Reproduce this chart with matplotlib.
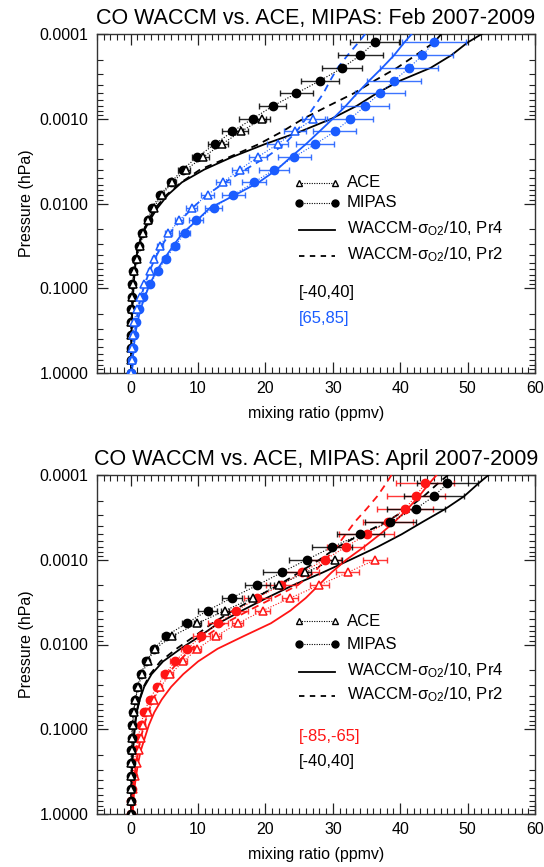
import numpy as np
import matplotlib
matplotlib.use("Agg")
import matplotlib.pyplot as plt
from matplotlib.ticker import FixedLocator, MultipleLocator, LogLocator, FuncFormatter, NullFormatter

plt.rcParams['font.family'] = ['Liberation Sans', 'DejaVu Sans']
plt.rcParams['mathtext.fontset'] = 'custom'
plt.rcParams['mathtext.rm'] = 'Liberation Sans'
plt.rcParams['mathtext.it'] = 'Liberation Sans:italic'

nan = np.nan
# observation pressure levels (hPa)
p_obs = [1.259e-4, 1.778e-4, 2.512e-4, 3.548e-4, 5.012e-4, 7.079e-4, 1.0e-3, 1.413e-3,
         1.995e-3, 2.818e-3, 3.981e-3, 5.623e-3, 7.943e-3, 1.122e-2, 1.585e-2, 2.239e-2,
         3.162e-2, 4.467e-2, 6.310e-2, 8.913e-2, 0.1259, 0.1778, 0.2512, 0.3548, 0.5012,
         0.7079, 1.0]
# model pressure levels (hPa)
p_mod = [1.0e-4] + p_obs

# ---------------- Feb 2007-2009 ----------------
mipas_trop_feb = [36.2, 34.1, 31.4, 28.1, 24.6, 21.1, 18.1, 15.1, 12.5, 9.9, 7.7, 6.0, 4.35, 3.2,
                  2.5, 1.7, 1.3, 0.8, 0.4, 0.25, 0.15, 0.1, 0.05, 0.03, 0.02, 0.01, 0.0]
mipas_trop_feb_err = [3.6, 3.4, 3.0, 2.8, 2.4, 2.0, 2.0, 1.5, 1.1, 0.8, 0.7, 0.5, 0.4, 0.3,
                      0.25, 0.2, 0.15, 0.1, 0.1, 0.05, 0.05, 0.05, 0.05, 0.05, 0.05, 0.05, 0.05]
ace_trop_feb = [nan, nan, nan, nan, nan, nan, 19.5, 16.4, 13.5, 10.8, 8.2, 6.2, 4.6, 3.4,
                2.6, 1.9, 1.4, 0.9, 0.5, 0.3, 0.2, 0.15, 0.1, 0.08, 0.05, 0.03, 0.02]
ace_trop_feb_err = [nan, nan, nan, nan, nan, nan, 1.2, 1.0, 0.9, 0.8, 0.6, 0.5, 0.4, 0.3,
                    0.2, 0.15, 0.1, 0.1, 0.05, 0.05, 0.05, 0.05, 0.05, 0.05, 0.05, 0.05, 0.05]
mipas_np_feb = [45.0, 43.3, 41.3, 39.1, 37.0, 34.8, 32.6, 30.3, 27.4, 24.3, 21.3, 18.3, 15.2, 12.3,
                9.7, 8.0, 6.6, 5.2, 4.0, 2.9, 1.9, 1.2, 0.8, 0.5, 0.3, 0.15, 0.05]
mipas_np_feb_err = [4.7, 4.5, 4.3, 4.0, 3.7, 3.6, 3.4, 3.2, 2.8, 2.5, 2.2, 1.8, 1.7, 1.3,
                    1.0, 0.8, 0.6, 0.5, 0.4, 0.3, 0.2, 0.15, 0.1, 0.1, 0.05, 0.05, 0.05]
ace_np_feb = [nan, nan, nan, nan, nan, nan, 27.1, 24.4, 21.8, 18.9, 16.2, 13.7, 11.4, 9.05,
              7.2, 5.6, 4.35, 3.5, 2.8, 2.0, 1.4, 0.9, 0.5, 0.35, 0.2, 0.15, 0.1]
ace_np_feb_err = [nan, nan, nan, nan, nan, nan, 1.7, 1.6, 1.5, 1.3, 1.2, 1.0, 0.9, 0.8,
                  0.6, 0.5, 0.4, 0.3, 0.25, 0.2, 0.15, 0.1, 0.1, 0.05, 0.05, 0.05, 0.05]
waccm_pr4_trop_feb = [52.1, 50.0, 47.6, 44.5, 40.0, 36.5, 33.5, 29.8, 25.2, 19.9, 15.1, 10.9, 7.6,
                      5.5, 4.0, 2.8, 1.8, 1.15, 0.8, 0.6, 0.45, 0.35, 0.25, 0.18, 0.12, 0.1, 0.07, 0.05]
waccm_pr2_trop_feb = [46.1, 45.0, 42.3, 39.5, 36.2, 33.1, 29.3, 25.6, 22.5, 19.0, 14.7, 10.3, 7.5,
                      5.3, 3.7, 2.6, 1.7, 1.1, 0.75, 0.55, 0.4, 0.3, 0.22, 0.16, 0.11, 0.09, 0.06, 0.05]
waccm_pr4_np_feb = [41.7, 40.6, 39.1, 37.3, 35.4, 33.6, 31.9, 30.0, 28.0, 26.0, 23.8, 21.7, 19.0,
                    15.5, 11.8, 9.8, 7.7, 6.3, 5.0, 3.8, 2.85, 2.1, 1.45, 1.0, 0.67, 0.45, 0.3, 0.2]
waccm_pr2_np_feb = [34.8, 33.8, 32.2, 30.7, 29.6, 28.6, 27.3, 26.0, 24.6, 22.8, 20.2, 17.0, 14.0,
                    11.3, 9.2, 7.4, 5.8, 4.6, 3.6, 2.8, 2.1, 1.55, 1.1, 0.8, 0.55, 0.4, 0.28, 0.2]

# ---------------- April 2007-2009 ----------------
mipas_trop_apr = [47.0, 45.0, 42.3, 38.5, 34.1, 29.9, 26.1, 22.4, 18.8, 15.0, 11.4, 8.3, 5.2, 3.5,
                  2.3, 1.5, 1.0, 0.7, 0.4, 0.25, 0.15, 0.1, 0.05, 0.03, 0.02, 0.01, 0.0]
mipas_trop_apr_err = [4.5, 4.4, 4.3, 3.8, 3.5, 3.0, 2.6, 2.8, 1.9, 1.5, 1.4, 0.7, 0.5, 0.4,
                      0.3, 0.2, 0.15, 0.1, 0.1, 0.05, 0.05, 0.05, 0.05, 0.05, 0.05, 0.05, 0.05]
ace_trop_apr = [nan, nan, nan, nan, nan, nan, 30.3, 25.9, 22.0, 18.1, 14.0, 9.9, 6.2, 3.6,
                2.5, 1.7, 1.1, 0.7, 0.45, 0.3, 0.2, 0.15, 0.1, 0.08, 0.05, 0.03, 0.02]
ace_trop_apr_err = [nan, nan, nan, nan, nan, nan, 1.0, 0.9, 0.8, 0.7, 0.6, 0.5, 0.4, 0.3,
                    0.2, 0.15, 0.1, 0.1, 0.05, 0.05, 0.05, 0.05, 0.05, 0.05, 0.05, 0.05, 0.05]
mipas_sp_apr = [43.7, 42.3, 40.7, 38.2, 35.0, 31.9, 28.8, 25.4, 22.3, 18.8, 15.7, 13.0, 10.5, 8.4,
                6.6, 5.1, 3.9, 2.8, 2.0, 1.5, 1.1, 0.8, 0.5, 0.35, 0.2, 0.1, 0.05]
mipas_sp_apr_err = [4.3, 4.3, 4.2, 3.7, 4.1, 2.7, 2.4, 2.6, 2.2, 2.0, 1.7, 1.5, 1.2, 1.0,
                    0.8, 0.6, 0.5, 0.4, 0.3, 0.2, 0.15, 0.1, 0.1, 0.05, 0.05, 0.05, 0.05]
ace_sp_apr = [nan, nan, nan, nan, nan, nan, 36.3, 32.2, 28.0, 23.7, 19.6, 15.9, 12.7, 9.9,
              7.8, 5.9, 4.4, 3.4, 2.6, 1.9, 1.6, 1.2, 0.9, 0.6, 0.4, 0.25, 0.1]
ace_sp_apr_err = [nan, nan, nan, nan, nan, nan, 1.8, 1.7, 1.4, 1.2, 1.1, 0.8, 0.7, 0.6,
                  0.5, 0.4, 0.3, 0.25, 0.2, 0.15, 0.1, 0.1, 0.05, 0.05, 0.05, 0.05, 0.05]
waccm_pr4_trop_apr = [53.1, 51.6, 49.5, 46.7, 43.4, 40.2, 36.6, 32.6, 28.5, 24.1, 20.2, 16.5, 13.0,
                      10.3, 7.4, 4.8, 3.1, 2.0, 1.35, 0.9, 0.65, 0.48, 0.35, 0.24, 0.18, 0.14, 0.12, 0.1]
waccm_pr2_trop_apr = [47.1, 45.6, 43.5, 41.0, 38.0, 34.2, 30.7, 28.0, 25.0, 21.9, 18.5, 15.2, 12.1,
                      9.5, 6.8, 4.4, 2.9, 1.9, 1.3, 0.85, 0.62, 0.45, 0.33, 0.23, 0.17, 0.13, 0.11, 0.1]
waccm_pr4_sp_apr = [45.4, 44.3, 42.8, 41.1, 39.2, 37.0, 34.6, 32.0, 29.8, 27.9, 26.0, 23.7, 20.8,
                    16.8, 12.9, 10.0, 7.8, 6.0, 4.6, 3.5, 2.7, 2.1, 1.5, 1.1, 0.8, 0.55, 0.4, 0.3]
waccm_pr2_sp_apr = [38.7, 37.9, 36.6, 35.0, 33.3, 31.9, 30.5, 28.9, 27.2, 24.8, 21.2, 17.5, 14.0,
                    11.2, 9.0, 7.1, 5.5, 4.3, 3.3, 2.6, 2.0, 1.5, 1.1, 0.8, 0.55, 0.4, 0.3, 0.25]

titles = ["CO WACCM vs. ACE, MIPAS: Feb 2007-2009", "CO WACCM vs. ACE, MIPAS: April 2007-2009"]
ytick_vals = [1e-4, 1e-3, 1e-2, 1e-1, 1.0]
xtick_vals = [0, 10, 20, 30, 40, 50, 60]

BLUE = '#1a5cff'
RED = '#ff1515'
BLACK = 'black'

fig = plt.figure(figsize=(5.44, 8.67), dpi=100)
W, H = 544.0, 867.0
ax1 = fig.add_axes([97 / W, 1 - 373 / H, 438 / W, 339 / H])
ax2 = fig.add_axes([97 / W, 1 - 814 / H, 438 / W, 339 / H])


def draw_obs(ax, x, err, color, marker, filled, z=4):
    x = np.array(x, float)
    e = np.array(err, float)
    p = np.array(p_obs)
    ax.errorbar(x, p, xerr=e, fmt='none', ecolor=color, elinewidth=1.0, capsize=2.0,
                capthick=1.0, alpha=0.85, zorder=z)
    ax.plot(x, p, linestyle=(0, (1, 1.5)), color=color, lw=0.8, zorder=z)
    if filled:
        ax.plot(x, p, linestyle='none', marker=marker, ms=6.0, mfc=color, mec=color, zorder=z + 1)
    else:
        ax.plot(x, p, linestyle='none', marker=marker, ms=6.2, mfc='white', mec=color, mew=1.1,
                zorder=z + 1)


def draw_model(ax, x, color, ls):
    ax.plot(x, p_mod, color=color, lw=1.3, linestyle=ls, zorder=3)


def style_axes(ax, title):
    ax.set_yscale('log')
    ax.set_ylim(1.0, 1e-4)
    ax.set_xlim(-5, 60)
    ax.yaxis.set_major_locator(FixedLocator(ytick_vals))
    ax.yaxis.set_major_formatter(FuncFormatter(lambda v, pos: '%.4f' % v))
    ax.yaxis.set_minor_locator(LogLocator(base=10, subs=np.arange(2, 10)))
    ax.yaxis.set_minor_formatter(NullFormatter())
    ax.xaxis.set_major_locator(FixedLocator(xtick_vals))
    ax.xaxis.set_minor_locator(MultipleLocator(1))
    ax.tick_params(which='both', direction='in', top=True, right=True, labelsize=11.5,
                   color='#222222')
    ax.tick_params(which='major', length=8, width=0.9, pad=6)
    ax.tick_params(which='minor', length=4, width=0.8)
    for s in ax.spines.values():
        s.set_color('#333333')
        s.set_linewidth(1.0)
    ax.set_title(title, fontsize=15.5, pad=7)
    ax.set_ylabel('Pressure (hPa)', fontsize=11.5, labelpad=4)
    ax.set_xlabel('mixing ratio (ppmv)', fontsize=11.5, labelpad=7)


def draw_key(ax, ys, region_labels):
    tr = ax.transAxes
    x0, x1, xt = 0.462, 0.543, 0.571
    fs = 12
    ax.plot([x0, x1], [ys[0], ys[0]], transform=tr, color='black', linestyle=(0, (1, 1.2)), lw=0.8)
    ax.plot([x0, x1], [ys[0], ys[0]], transform=tr, color='black', linestyle='none', marker='^',
            ms=5, mfc='white', mec='black', mew=1.0)
    ax.text(xt, ys[0], 'ACE', transform=tr, fontsize=fs, va='center')
    ax.plot([x0, x1], [ys[1], ys[1]], transform=tr, color='black', linestyle=(0, (1, 1.2)), lw=0.8)
    ax.plot([x0, x1], [ys[1], ys[1]], transform=tr, color='black', linestyle='none', marker='o',
            ms=5, mfc='black', mec='black')
    ax.text(xt, ys[1], 'MIPAS', transform=tr, fontsize=fs, va='center')
    ax.plot([x0, x1], [ys[2], ys[2]], transform=tr, color='black', lw=1.3)
    ax.text(xt, ys[2] + 0.005, r'WACCM-σ$_{\mathrm{O2}}$/10, Pr4', transform=tr, fontsize=fs,
            va='center')
    ax.plot([x0, x1], [ys[3], ys[3]], transform=tr, color='black', lw=1.3, linestyle=(0, (3, 3)))
    ax.text(xt, ys[3] + 0.005, r'WACCM-σ$_{\mathrm{O2}}$/10, Pr2', transform=tr, fontsize=fs,
            va='center')
    for (lab, col), y in zip(region_labels, ys[4:]):
        ax.text(x0, y, lab, transform=tr, fontsize=fs, va='center', color=col)


# ----- top panel -----
draw_model(ax1, waccm_pr4_trop_feb, BLACK, '-')
draw_model(ax1, waccm_pr2_trop_feb, BLACK, (0, (4, 3)))
draw_model(ax1, waccm_pr4_np_feb, BLUE, '-')
draw_model(ax1, waccm_pr2_np_feb, BLUE, (0, (4, 3)))
draw_obs(ax1, mipas_trop_feb, mipas_trop_feb_err, BLACK, 'o', True)
draw_obs(ax1, ace_trop_feb, ace_trop_feb_err, BLACK, '^', False)
draw_obs(ax1, mipas_np_feb, mipas_np_feb_err, BLUE, 'o', True)
draw_obs(ax1, ace_np_feb, ace_np_feb_err, BLUE, '^', False)
style_axes(ax1, titles[0])
draw_key(ax1, [0.5605, 0.5015, 0.4218, 0.345, 0.236, 0.162],
         [('[-40,40]', BLACK), ('[65,85]', BLUE)])

# ----- bottom panel -----
draw_model(ax2, waccm_pr4_trop_apr, BLACK, '-')
draw_model(ax2, waccm_pr2_trop_apr, BLACK, (0, (4, 3)))
draw_model(ax2, waccm_pr4_sp_apr, RED, '-')
draw_model(ax2, waccm_pr2_sp_apr, RED, (0, (4, 3)))
draw_obs(ax2, mipas_sp_apr, mipas_sp_apr_err, RED, 'o', True)
draw_obs(ax2, ace_sp_apr, ace_sp_apr_err, RED, '^', False)
draw_obs(ax2, mipas_trop_apr, mipas_trop_apr_err, BLACK, 'o', True)
draw_obs(ax2, ace_trop_apr, ace_trop_apr_err, BLACK, '^', False)
style_axes(ax2, titles[1])
draw_key(ax2, [0.569, 0.501, 0.419, 0.348, 0.230, 0.156],
         [('[-85,-65]', RED), ('[-40,40]', BLACK)])

fig.savefig('out.png', dpi=100)
